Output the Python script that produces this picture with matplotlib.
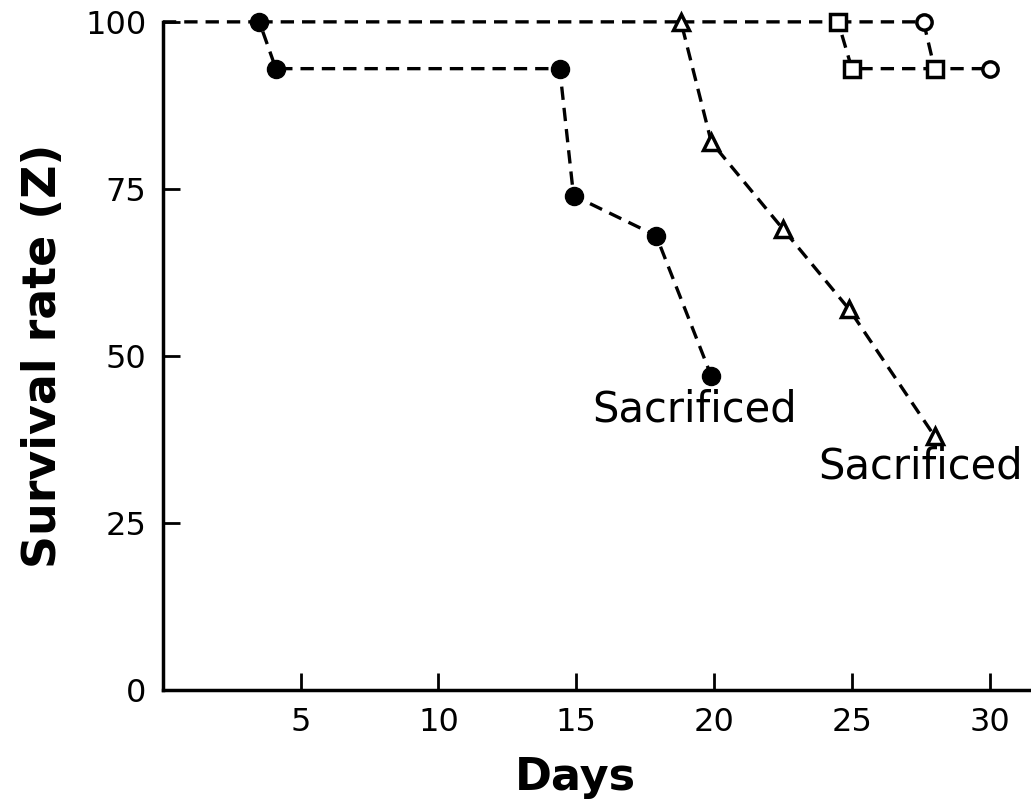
import matplotlib.pyplot as plt

# survival data
days_filled = [0, 3.5, 4.1, 14.4, 14.9, 17.9, 19.9]
surv_filled = [100, 100, 93, 93, 74, 68, 47]

days_tri = [3.5, 18.8, 19.9, 22.5, 24.9, 28.0]
surv_tri = [100, 100, 82, 69, 57, 38]

days_sq = [18.8, 24.5, 25.0, 28.0]
surv_sq = [100, 100, 93, 93]

days_circ = [24.5, 27.6, 28.0, 30.0]
surv_circ = [100, 100, 93, 93]

xticks = [5, 10, 15, 20, 25, 30]
yticks = [0, 25, 50, 75, 100]

plt.rcParams['font.family'] = ['DejaVu Sans']

fig = plt.figure(figsize=(10.31, 8.10), dpi=100)
ax = fig.add_axes([0.158, 0.148, 0.842, 0.825])

dash = dict(color='black', lw=2.4, linestyle=(0, (4, 2.4)), clip_on=False)

ax.plot(days_circ, surv_circ, **dash)
ax.plot(days_circ[1:2] + days_circ[3:], surv_circ[1:2] + surv_circ[3:], 'o', ms=11,
        mfc='white', mec='black', mew=2.5, clip_on=False)
ax.plot(days_sq, surv_sq, **dash)
ax.plot(days_sq[1:], surv_sq[1:], 's', ms=11, mfc='white', mec='black', mew=2.5, clip_on=False)
ax.plot(days_tri, surv_tri, **dash)
ax.plot(days_tri[1:], surv_tri[1:], '^', ms=11, mfc='white', mec='black', mew=2.5, clip_on=False)
ax.plot(days_filled, surv_filled, **dash)
ax.plot(days_filled[1:], surv_filled[1:], 'o', ms=13, color='black', clip_on=False)

ax.text(19.3, 42, 'Sacrificed', fontsize=30, ha='center', va='center')
ax.text(27.5, 33.5, 'Sacrificed', fontsize=30, ha='center', va='center')

ax.set_xlim(0, 31.5)
ax.set_ylim(0, 100)
ax.set_xticks(xticks)
ax.set_yticks(yticks)
ax.tick_params(direction='in', length=12, width=2, labelsize=23, pad=12)
ax.spines['top'].set_visible(False)
ax.spines['right'].set_visible(False)
ax.spines['left'].set_linewidth(2.5)
ax.spines['bottom'].set_linewidth(2.5)

ax.set_xlabel('Days', fontsize=32, fontweight='bold')
ax.xaxis.set_label_coords(0.475, -0.098)
ax.set_ylabel('Survival rate (Z)', fontsize=33, fontweight='bold', labelpad=14)

fig.savefig('out.png', dpi=100)
